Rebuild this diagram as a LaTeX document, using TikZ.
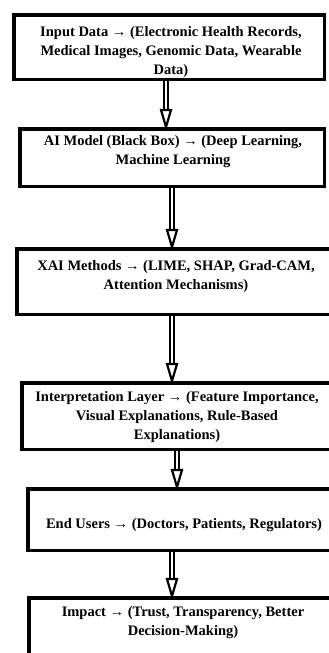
\documentclass[tikz,border=0pt]{standalone}
\usepackage{fontspec}
\setmainfont{Liberation Serif}
\usetikzlibrary{calc}
\tikzset{
  box/.style={draw=black, line width=3.5pt, fill=white, inner sep=0pt},
  txt/.style={align=center, inner sep=0pt, font=\fontsize{14.5}{19}\selectfont\bfseries},
  shaft/.style={draw=black, line width=2.6pt, double=white, double distance=1.2pt},
  head/.style={draw=black, line width=2.2pt, fill=white, line join=miter}
}
\newcommand{\conn}[3]{%
  \draw[shaft] (#1.south -| #3) -- ($(#2.north -| #3)+(0,-16)$);
  \draw[head] ($(#2.north -| #3)+(-5,-17)$) -- ($(#2.north -| #3)+(5,-17)$) -- (#2.north -| #3) -- cycle;
}
\begin{document}
\begin{tikzpicture}[x=1pt,y=-1pt]
\clip (0,0) rectangle (329,653);
\fill[white] (0,0) rectangle (329,653);
\node[box, minimum width=310.5pt, minimum height=64.5pt] (b1) at (169,47) {};
\node[box, minimum width=304.5pt, minimum height=57.5pt] (b2) at (172,157.5) {};
\node[box, minimum width=318.5pt, minimum height=65.5pt] (b3) at (176,281.5) {};
\node[box, minimum width=310.5pt, minimum height=66.5pt] (b4) at (177,416) {};
\node[box, minimum width=312.5pt, minimum height=61.5pt] (b5) at (184,519.5) {};
\node[box, minimum width=308.5pt, minimum height=70.5pt] (b6) at (183,633) {};
\node[txt] (t1) at (171,52) {Input Data → (Electronic Health Records,\\Medical Images, Genomic Data, Wearable\\Data)};
\node[txt] (t2) at (173,151.5) {AI Model (Black Box) → (Deep Learning,\\Machine Learning};
\node[txt] (t3) at (176,276.5) {XAI Methods → (LIME, SHAP, Grad-CAM,\\Attention Mechanisms)};
\node[txt] (t4) at (177,417) {Interpretation Layer → (Feature Importance,\\Visual Explanations, Rule-Based\\Explanations)};
\node[txt] (t5) at (184,525) {End Users → (Doctors, Patients, Regulators)};
\node[txt] (t6) at (183,622.5) {Impact → (Trust, Transparency, Better\\Decision-Making)};
\coordinate (x1) at (166,0);
\coordinate (x2) at (172,0);
\coordinate (x3) at (172,0);
\coordinate (x4) at (177,0);
\coordinate (x5) at (172,0);
\conn{b1}{b2}{x1}
\conn{b2}{b3}{x2}
\conn{b3}{b4}{x3}
\conn{b4}{b5}{x4}
\conn{b5}{b6}{x5}
\end{tikzpicture}
\end{document}
